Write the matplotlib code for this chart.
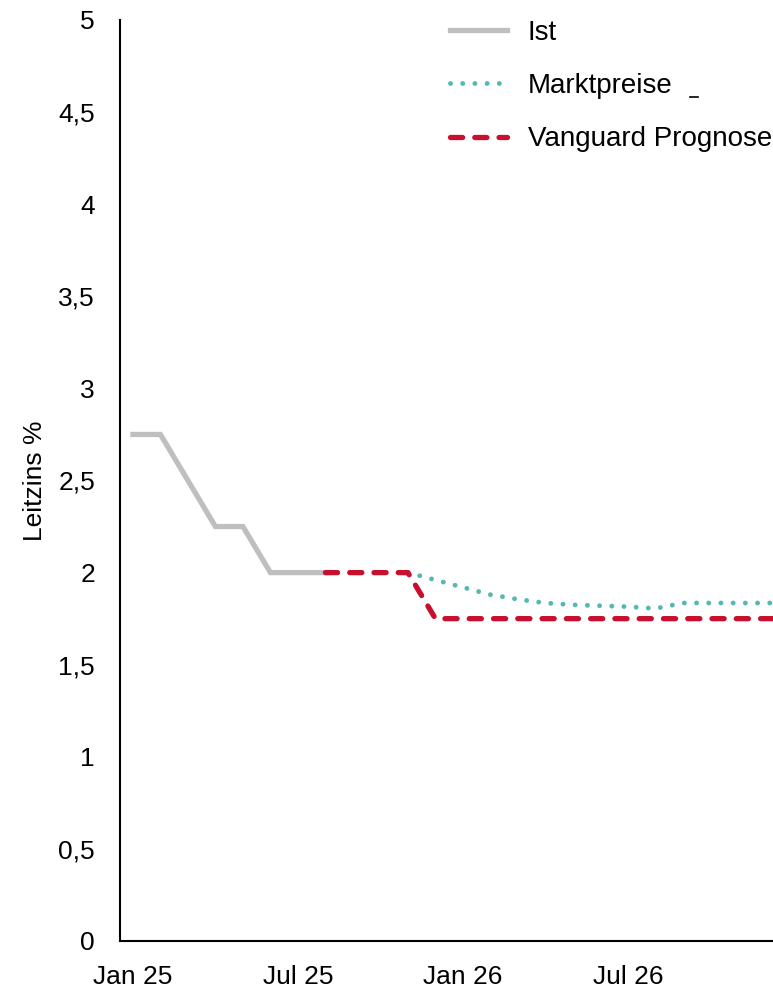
import matplotlib
matplotlib.use("Agg")
import matplotlib.pyplot as plt
from matplotlib.lines import Line2D

plt.rcParams['font.family'] = ['Liberation Sans', 'DejaVu Sans']

# months since Jan 25
ist_x = [0, 1, 2, 3, 4, 5, 6, 7]
ist_y = [2.75, 2.75, 2.5, 2.25, 2.25, 2.0, 2.0, 2.0]

markt_x = [10, 11, 12, 13, 14, 15, 16, 17, 18, 19, 20, 21, 22, 23, 24]
markt_y = [2.0, 1.96, 1.92, 1.88, 1.855, 1.835, 1.825, 1.82, 1.815, 1.805, 1.835, 1.835, 1.835, 1.835, 1.835]

prog_x = [7, 8, 9, 10, 11, 12, 13, 14, 15, 16, 17, 18, 19, 20, 21, 22, 23, 24]
prog_y = [2.0, 2.0, 2.0, 2.0, 1.75, 1.75, 1.75, 1.75, 1.75, 1.75, 1.75, 1.75, 1.75, 1.75, 1.75, 1.75, 1.75, 1.75]

tick_pos = [0, 6, 12, 18]
tick_labels = ['Jan 25', 'Jul 25', 'Jan 26', 'Jul 26']
y_ticks = [0, 0.5, 1, 1.5, 2, 2.5, 3, 3.5, 4, 4.5, 5]

W, H = 773, 991
FS = 19
fig = plt.figure(figsize=(W / 100, H / 100), dpi=100)
# axes deliberately runs past the right edge (cropped like the original)
px_per_month = 27.5
x0 = -0.47
x1 = 25
ax = fig.add_axes([120 / W, (H - 941) / H, (x1 - x0) * px_per_month / W, 921 / H])

ax.plot(ist_x, ist_y, color='#BFBFBF', lw=3.8, solid_joinstyle='miter', label='Ist', zorder=2)
ax.plot(markt_x, markt_y, color='#55B8B3', lw=3.5, linestyle=(0, (0.01, 2.5)),
        dash_capstyle='round', label='Marktpreise', zorder=3)
ax.plot(prog_x, prog_y, color='#C8102E', lw=3.8, linestyle=(0, (2.3, 2.3)),
        dash_capstyle='round', label='Vanguard Prognose', zorder=4)

ax.set_xlim(x0, x1)
ax.set_ylim(0, 5)
ax.set_yticks(y_ticks)
ax.set_yticklabels([('%g' % v).replace('.', ',') for v in y_ticks])
ax.set_xticks(tick_pos)
ax.set_xticklabels(tick_labels)
ax.tick_params(axis='both', length=0, labelsize=FS)
ax.tick_params(axis='y', pad=18)
ax.tick_params(axis='x', pad=17)

for s in ['top', 'right']:
    ax.spines[s].set_visible(False)
for s in ['left', 'bottom']:
    ax.spines[s].set_linewidth(1.5)
    ax.spines[s].set_color('black')

fig.text(35 / W, 1 - 481 / H, 'Leitzins %', rotation=90, fontsize=FS,
         ha='center', va='center')

ax.legend(loc='upper left', bbox_to_anchor=(447 / W, 1 - 17 / H),
          bbox_transform=fig.transFigure, frameon=False, fontsize=20,
          borderpad=0.1, borderaxespad=0,
          handlelength=2.05, handletextpad=0.75, labelspacing=0.98)

# small stray tick mark next to the legend, as in the original
fig.add_artist(Line2D([690 / W, 698 / W], [1 - 97 / H, 1 - 97 / H], color='black', lw=1.2))

fig.savefig('out.png', dpi=100)
